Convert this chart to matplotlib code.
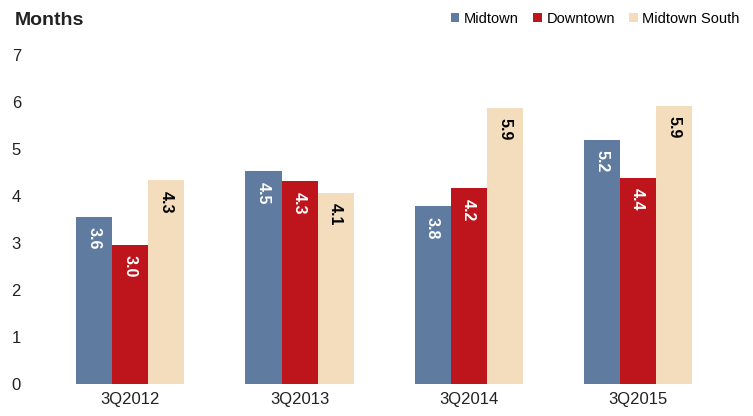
import matplotlib
matplotlib.use("Agg")
import matplotlib.pyplot as plt
from matplotlib import font_manager as fm
import numpy as np

categories = ["3Q2012", "3Q2013", "3Q2014", "3Q2015"]
series_names = ["Midtown", "Downtown", "Midtown South"]
midtown = [3.56, 4.52, 3.78, 5.20]
downtown = [2.96, 4.31, 4.16, 4.39]
midtown_south = [4.33, 4.06, 5.88, 5.92]
colors = ["#5F7B9F", "#BE141C", "#F3DDBD"]
label_colors = ["white", "white", "black"]
yticks = [0, 1, 2, 3, 4, 5, 6, 7]

names = {f.name for f in fm.fontManager.ttflist}
narrow = "Liberation Sans Narrow" if "Liberation Sans Narrow" in names else "Liberation Sans"

fig = plt.figure(figsize=(7.53, 4.16), dpi=100)
ax = fig.add_axes([0.061, 0.077, 0.898, 0.791])

x = np.arange(len(categories))
w = 0.213
series = [midtown, downtown, midtown_south]
handles = []
for i, (vals, c, lc) in enumerate(zip(series, colors, label_colors)):
    pos = x + (i - 1) * w
    b = ax.bar(pos, vals, width=w, color=c, label=series_names[i], edgecolor="none")
    handles.append(b)
    for p, v in zip(pos, vals):
        ax.text(p, v - 0.22, f"{v:.1f}", rotation=-90, ha="center", va="top",
                color=lc, fontsize=11.5, fontweight="bold", family=narrow)

ax.set_xlim(-0.5, 3.5)
ax.set_ylim(0, 7)
ax.set_yticks(yticks)
ax.set_xticks(x)
ax.set_xticklabels(categories)
for s in ax.spines.values():
    s.set_visible(False)
ax.tick_params(axis="both", length=0, labelsize=12)
ax.tick_params(axis="y", pad=18)
ax.tick_params(axis="x", pad=6)
for t in ax.get_xticklabels() + ax.get_yticklabels():
    t.set_family(narrow)
    t.set_color("#222222")

fig.text(0.02, 0.95, "Months", fontsize=14, family=narrow, fontweight="bold",
         color="#222222", va="center", ha="left")

fig.legend(handles=handles, labels=series_names, loc="center right",
           bbox_to_anchor=(1.0, 0.955), ncol=3, frameon=False,
           prop={"family": "Liberation Sans", "size": 10.5},
           handlelength=0.6, handleheight=0.6, handletextpad=0.3, columnspacing=1.0)

fig.savefig("out.png", dpi=100)
